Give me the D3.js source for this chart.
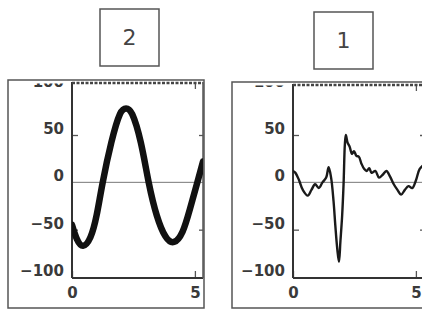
<!DOCTYPE html>
<html>
<head>
<meta charset="utf-8">
<script src="https://cdn.jsdelivr.net/npm/d3@7"></script>
<style>
  body { margin: 0; background: #fff; }
  svg { display: block; }
</style>
</head>
<body>
<div id="chart"></div>
<script>
// panel titles, left to right
const panelTitles = ["2", "1"];

// axis ticks
const yTickLabels = [100, 50, 0, -50, -100];
const yInnerTicks = [50, -50];
const xTickLabels = [0, 5];

// left panel: smooth thick wave
const waveX = [0, 0.2, 0.45, 0.75, 1.0, 1.25, 1.6, 1.95, 2.2, 2.45, 2.8, 3.12, 3.45, 3.8, 4.15, 4.5, 4.8, 5.1, 5.33];
const waveY = [-45, -60, -67, -58, -35, 0, 42, 72, 78, 72, 42, 0, -35, -57, -63, -52, -28, 0, 22];

// right panel: noisy trace with the spike
const traceX = [0, 0.1, 0.25, 0.4, 0.6, 0.75, 0.9, 1.05, 1.2, 1.35, 1.45, 1.55, 1.65, 1.72, 1.8, 1.87, 1.93, 2.0, 2.06, 2.11, 2.15,
  2.22, 2.3, 2.4, 2.48, 2.58, 2.68, 2.78, 2.9, 3.0, 3.1, 3.2, 3.35, 3.5, 3.65, 3.8, 3.95, 4.1, 4.25, 4.4, 4.55, 4.7, 4.85, 5.0, 5.15, 5.3];
const traceY = [12, 10, 2, -8, -14, -8, -2, -6, 0, 5, 16, 5, -20, -45, -70, -84, -62, -35, 0, 40, 50,
  42, 38, 30, 33, 28, 27, 20, 14, 12, 15, 10, 12, 5, 8, 12, 6, -2, -8, -13, -8, -4, -6, 2, 14, 18];

const width = 422, height = 309;

const svg = d3.select("#chart").append("svg")
    .attr("width", width)
    .attr("height", height);

const panels = [
    {title: panelTitles[0], titleBox: {x: 100, y: 9, w: 59, h: 57},
     outer: {x: 8, y: 80, w: 196, h: 228}, plot: {x: 72, y: 82, w: 131, h: 196},
     xs: waveX, ys: waveY, stroke: 6.5, color: "#111"},
    {title: panelTitles[1], titleBox: {x: 314, y: 12, w: 59, h: 57},
     outer: {x: 232, y: 82, w: 200, h: 226}, plot: {x: 293, y: 84, w: 131, h: 194},
     xs: traceX, ys: traceY, stroke: 2.4, color: "#1a1a1a"}
];

panels.forEach((p, i) => drawPanel(p, i));

function drawPanel(p, i) {
    // title box
    svg.append("rect")
        .attr("x", p.titleBox.x).attr("y", p.titleBox.y)
        .attr("width", p.titleBox.w).attr("height", p.titleBox.h)
        .attr("fill", "none").attr("stroke", "#555").attr("stroke-width", 1.5);
    svg.append("text")
        .attr("x", p.titleBox.x + p.titleBox.w / 2)
        .attr("y", p.titleBox.y + p.titleBox.h / 2)
        .attr("text-anchor", "middle").attr("dy", "0.36em")
        .attr("font-family", "DejaVu Sans").attr("font-size", 22)
        .attr("fill", "#444")
        .text(p.title);

    // outer frame
    svg.append("rect")
        .attr("x", p.outer.x).attr("y", p.outer.y)
        .attr("width", p.outer.w).attr("height", p.outer.h)
        .attr("fill", "none").attr("stroke", "#555").attr("stroke-width", 1.5);

    const x = d3.scaleLinear()
        .domain([0, 5.33])
        .range([p.plot.x, p.plot.x + p.plot.w]);
    const y = d3.scaleLinear()
        .domain([-100, 50])
        .range([p.plot.y + p.plot.h - 1, 135]);

    // labels clipped by the top of the frame
    const clipId = "clip" + i;
    svg.append("clipPath").attr("id", clipId)
        .append("rect")
        .attr("x", p.outer.x).attr("y", p.outer.y + 3.5)
        .attr("width", p.outer.w).attr("height", p.outer.h);

    const yAxis = svg.append("g")
        .attr("clip-path", `url(#${clipId})`)
        .append("g")
        .attr("transform", `translate(${p.plot.x},0)`)
        .call(d3.axisLeft(y).tickValues(yTickLabels).tickSize(0).tickPadding(8));
    yAxis.select(".domain").remove();
    yAxis.selectAll("text")
        .attr("dy", "-0.1em")
        .attr("font-family", "DejaVu Sans").attr("font-weight", "bold")
        .attr("font-size", 15).attr("fill", "#3a3a3a");

    // inward ticks on both sides
    [d3.axisLeft(y), d3.axisRight(y)].forEach((ax, k) => {
        const g = svg.append("g")
            .attr("transform", `translate(${k === 0 ? p.plot.x : x(5.33) - 4},0)`)
            .call(ax.tickValues(yInnerTicks).tickSize(k === 0 ? -6 : 0).tickFormat(""));
        g.select(".domain").remove();
        g.selectAll("line").attr("stroke", "#555").attr("stroke-width", 1.3)
            .attr("x2", k === 0 ? 6 : 4);
    });

    // x axis
    const xAxis = svg.append("g")
        .attr("transform", `translate(0,${p.plot.y + p.plot.h})`)
        .call(d3.axisBottom(x).tickValues(xTickLabels).tickSize(-7).tickPadding(9)
            .tickFormat(d3.format("d")));
    xAxis.select(".domain").remove();
    xAxis.selectAll("line").attr("stroke", "#555").attr("stroke-width", 1.3);
    xAxis.selectAll("text")
        .attr("font-family", "DejaVu Sans").attr("font-weight", "bold")
        .attr("font-size", 15).attr("fill", "#3a3a3a");

    const topAxis = svg.append("g")
        .attr("transform", `translate(0,${p.plot.y})`)
        .call(d3.axisTop(x).tickValues([5]).tickSize(-7).tickFormat(""));
    topAxis.select(".domain").remove();
    topAxis.selectAll("line").attr("stroke", "#555").attr("stroke-width", 1.3);

    // zero line
    svg.append("line")
        .attr("x1", p.plot.x).attr("x2", p.plot.x + p.plot.w)
        .attr("y1", y(0)).attr("y2", y(0))
        .attr("stroke", "#777").attr("stroke-width", 1);

    // plot frame
    svg.append("line")
        .attr("x1", p.plot.x).attr("x2", p.plot.x)
        .attr("y1", p.plot.y).attr("y2", p.plot.y + p.plot.h)
        .attr("stroke", "#333").attr("stroke-width", 2);
    svg.append("line")
        .attr("x1", p.plot.x).attr("x2", p.plot.x + p.plot.w)
        .attr("y1", p.plot.y + p.plot.h).attr("y2", p.plot.y + p.plot.h)
        .attr("stroke", "#333").attr("stroke-width", 2);
    svg.append("line")
        .attr("x1", p.plot.x).attr("x2", p.plot.x + p.plot.w)
        .attr("y1", p.plot.y + 1).attr("y2", p.plot.y + 1)
        .attr("stroke", "#444").attr("stroke-width", 2.5)
        .attr("stroke-dasharray", "3,1.5");
    svg.append("line")
        .attr("x1", p.plot.x + p.plot.w).attr("x2", p.plot.x + p.plot.w)
        .attr("y1", p.plot.y).attr("y2", p.plot.y + p.plot.h)
        .attr("stroke", "#555").attr("stroke-width", 1.5);

    // data line, clipped to the plot area
    const plotClip = "plotclip" + i;
    svg.append("clipPath").attr("id", plotClip)
        .append("rect")
        .attr("x", p.plot.x).attr("y", p.plot.y)
        .attr("width", p.plot.w).attr("height", p.plot.h);

    const pts = p.xs.map((d, j) => [d, p.ys[j]]);
    const line = d3.line()
        .x(d => x(d[0]))
        .y(d => y(d[1]))
        .curve(i === 0 ? d3.curveNatural : d3.curveCatmullRom.alpha(0.5));

    svg.append("path")
        .datum(pts)
        .attr("clip-path", `url(#${plotClip})`)
        .attr("d", line)
        .attr("fill", "none")
        .attr("stroke", p.color)
        .attr("stroke-width", p.stroke)
        .attr("stroke-linejoin", "round")
        .attr("stroke-linecap", "round");
}
</script>
</body>
</html>
